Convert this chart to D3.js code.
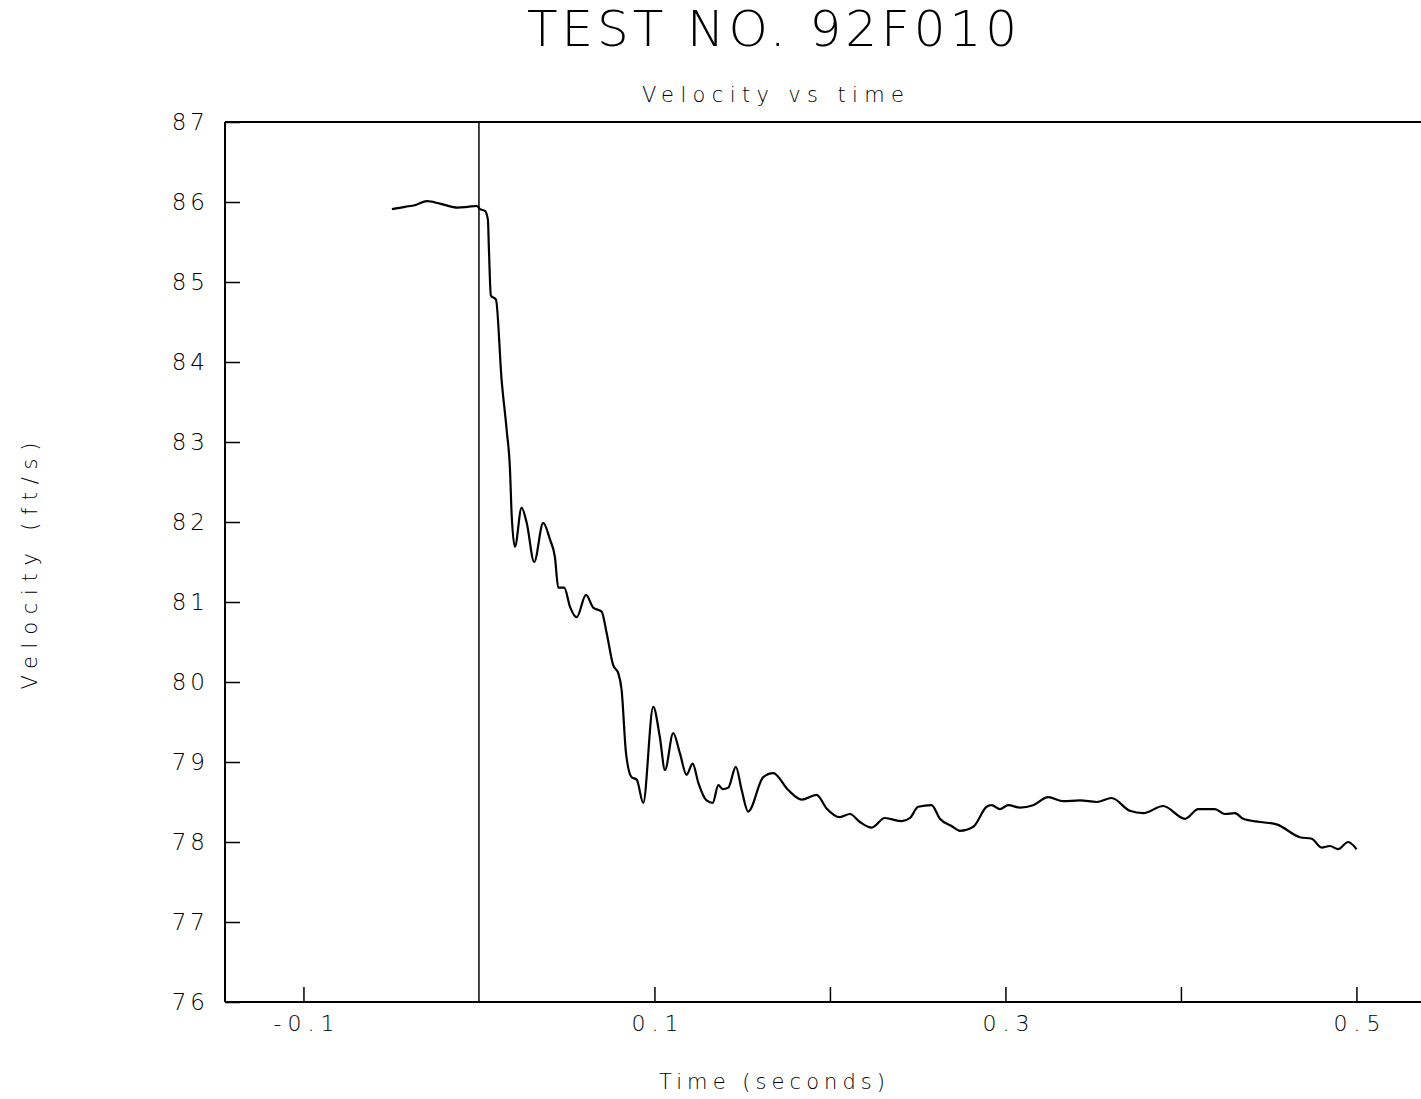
<!DOCTYPE html>
<html>
<head>
<meta charset="utf-8">
<script src="https://cdn.jsdelivr.net/npm/d3@7"></script>
<style>
  body { margin: 0; background: white; }
  text { font-family: "DejaVu Sans", sans-serif; font-weight: 200; fill: black; }
</style>
</head>
<body>
<div id="chart"></div>
<script>
// data: time (s) and velocity (ft/s)
const time = [-0.0496, -0.0422, -0.0365, -0.0296, -0.0222, -0.0120, -0.0063, -0.0011,
  0.0006, 0.0034, 0.0051, 0.0057, 0.0068, 0.0097, 0.0129, 0.0158, 0.0177, 0.0186, 0.0205,
  0.0243, 0.0272, 0.0315, 0.0366, 0.0405, 0.0433, 0.0452, 0.0486, 0.0519, 0.0557, 0.0610,
  0.0651, 0.0699, 0.0728, 0.0765, 0.0794, 0.0813, 0.0838, 0.0870, 0.0899, 0.0936, 0.0993,
  0.1031, 0.1060, 0.1107, 0.1145, 0.1183, 0.1218, 0.1250, 0.1297, 0.1332, 0.1364, 0.1389,
  0.1421, 0.1464, 0.1497, 0.1534, 0.1620, 0.1677, 0.1762, 0.1839, 0.1924, 0.1981, 0.2057,
  0.2114, 0.2171, 0.2238, 0.2313, 0.2409, 0.2456, 0.2503, 0.2579, 0.2627, 0.2693, 0.2741,
  0.2817, 0.2893, 0.2921, 0.2969, 0.3016, 0.3083, 0.3158, 0.3244, 0.3329, 0.3425, 0.3520,
  0.3605, 0.3709, 0.3785, 0.3899, 0.4023, 0.4099, 0.4194, 0.4251, 0.4308, 0.4355, 0.4450,
  0.4545, 0.4678, 0.4745, 0.4802, 0.4849, 0.4896, 0.4953, 0.5001];
const velocity = [85.91, 85.94, 85.96, 86.01, 85.98, 85.93, 85.94, 85.95,
  85.91, 85.89, 85.78, 85.40, 84.83, 84.78, 83.78, 83.15, 82.65, 82.11, 81.69,
  82.18, 81.99, 81.50, 81.99, 81.78, 81.56, 81.18, 81.18, 80.94, 80.81, 81.09,
  80.93, 80.88, 80.61, 80.21, 80.11, 79.90, 79.11, 78.81, 78.78, 78.49, 79.69,
  79.31, 78.90, 79.36, 79.11, 78.84, 78.98, 78.74, 78.52, 78.49, 78.71, 78.66,
  78.68, 78.94, 78.65, 78.38, 78.81, 78.86, 78.65, 78.53, 78.59, 78.42, 78.31,
  78.35, 78.25, 78.18, 78.30, 78.26, 78.30, 78.44, 78.46, 78.29, 78.20, 78.14,
  78.19, 78.44, 78.46, 78.41, 78.46, 78.43, 78.46, 78.56, 78.51, 78.52, 78.50,
  78.55, 78.39, 78.36, 78.45, 78.29, 78.41, 78.41, 78.35, 78.36, 78.29, 78.25,
  78.22, 78.06, 78.04, 77.93, 77.95, 77.91, 78.00, 77.91];

const yTicks = [76, 77, 78, 79, 80, 81, 82, 83, 84, 85, 86, 87];
const xTicks = [-0.1, 0.1, 0.2, 0.3, 0.4, 0.5];
const xLabels = [-0.1, 0.1, 0.3, 0.5];

const width = 1421;
const height = 1099;
const margin = {t: 122, b: 97, l: 225, r: 0};

const svg = d3.select("#chart")
    .append("svg")
    .attr("width", width)
    .attr("height", height)
    .attr("viewBox", [0, 0, width, height]);

const x = d3.scaleLinear()
    .domain([-0.1447, 0.5368])
    .range([margin.l, width - margin.r]);
const y = d3.scaleLinear()
    .domain([76, 87])
    .range([height - margin.b, margin.t]);

// titles
svg.append("text")
    .attr("x", 772).attr("y", 46)
    .attr("text-anchor", "middle")
    .attr("font-size", "50px")
    .attr("textLength", 490)
    .attr("lengthAdjust", "spacing")
    .text("TEST NO. 92F010");

svg.append("text")
    .attr("x", 773).attr("y", 102)
    .attr("text-anchor", "middle")
    .attr("font-size", "21px")
    .attr("font-weight", 400)
    .attr("textLength", 262)
    .attr("lengthAdjust", "spacing")
    .text("Velocity vs time");

svg.append("text")
    .attr("x", 772).attr("y", 1089)
    .attr("text-anchor", "middle")
    .attr("font-size", "21px")
    .attr("font-weight", 400)
    .attr("textLength", 226)
    .attr("lengthAdjust", "spacing")
    .text("Time (seconds)");

svg.append("text")
    .attr("transform", "translate(37,566)rotate(-90)")
    .attr("text-anchor", "middle")
    .attr("font-size", "21px")
    .attr("font-weight", 400)
    .attr("textLength", 247)
    .attr("lengthAdjust", "spacing")
    .text("Velocity (ft/s)");

// axes
const yAxis = svg.append("g")
    .attr("transform", "translate(" + margin.l + ",0)")
    .call(d3.axisLeft(y).tickValues(yTicks).tickSize(-15).tickPadding(20).tickFormat(d3.format("d")));
yAxis.select(".domain").remove();
yAxis.selectAll("line").attr("stroke", "black").attr("stroke-width", 1.5);
yAxis.selectAll("text")
    .attr("font-size", "23px")
    .attr("letter-spacing", "4px")
    .attr("dx", "4px");

const xAxis = svg.append("g")
    .attr("transform", "translate(0," + y(76) + ")")
    .call(d3.axisBottom(x).tickValues(xTicks).tickSize(-15).tickPadding(13)
        .tickFormat(d => xLabels.includes(d) ? d3.format(".1f")(d).replace("\u2212", "-") : ""));
xAxis.select(".domain").remove();
xAxis.selectAll("line").attr("stroke", "black").attr("stroke-width", 1.5);
xAxis.selectAll("text")
    .attr("font-size", "22px")
    .attr("letter-spacing", "6px")
    .attr("dx", "3px");

// frame: left, top, bottom, and the zero line
const frame = svg.append("g")
    .attr("stroke", "black")
    .attr("stroke-width", 2);
frame.append("line")
    .attr("x1", x.range()[0]).attr("x2", x.range()[0])
    .attr("y1", y(87)).attr("y2", y(76));
frame.append("line")
    .attr("x1", x.range()[0]).attr("x2", x.range()[1])
    .attr("y1", y(87)).attr("y2", y(87));
frame.append("line")
    .attr("x1", x.range()[0]).attr("x2", x.range()[1])
    .attr("y1", y(76)).attr("y2", y(76));
frame.append("line")
    .attr("x1", x(0)).attr("x2", x(0))
    .attr("y1", y(87)).attr("y2", y(76))
    .attr("stroke-width", 1.5);

// velocity trace
const points = time.map((t, i) => [t, velocity[i]]);
const line = d3.line()
    .x(d => x(d[0]))
    .y(d => y(d[1]))
    .curve(d3.curveMonotoneX);

svg.append("path")
    .datum(points)
    .attr("fill", "none")
    .attr("stroke", "black")
    .attr("stroke-width", 2.2)
    .attr("d", line);
</script>
</body>
</html>
